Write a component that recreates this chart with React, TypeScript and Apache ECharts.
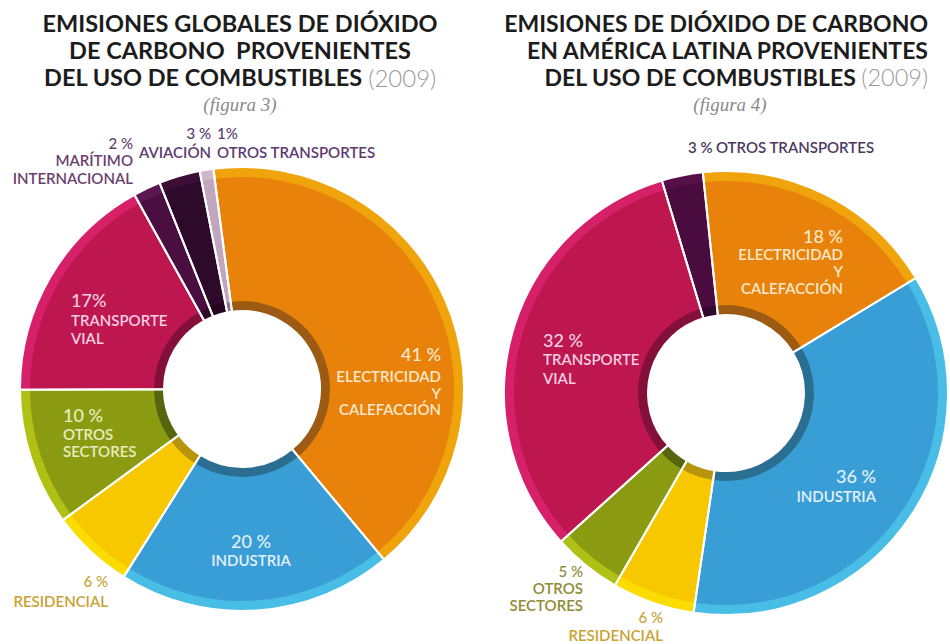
import React, { useEffect, useRef } from "react";
import * as echarts from "echarts";

// ---------- DATA ----------
const globalCategories = [
  "Electricidad y calefacción",
  "Industria",
  "Residencial",
  "Otros sectores",
  "Transporte vial",
  "Marítimo internacional",
  "Aviación",
  "Otros transportes",
];
const globalValues = [41, 20, 6, 10, 17, 2, 3, 1];
const globalPctLabels = ["41 %", "20 %", "6 %", "10 %", "17%", "2 %", "3 %", "1%"];
const globalNameLabels = [
  "ELECTRICIDAD\nY\nCALEFACCIÓN",
  "INDUSTRIA",
  "RESIDENCIAL",
  "OTROS\nSECTORES",
  "TRANSPORTE\nVIAL",
  "MARÍTIMO\nINTERNACIONAL",
  "AVIACIÓN",
  "OTROS TRANSPORTES",
];

const latamCategories = [
  "Electricidad y calefacción",
  "Industria",
  "Residencial",
  "Otros sectores",
  "Transporte vial",
  "Otros transportes",
];
const latamValues = [18, 36, 6, 5, 32, 3];
const latamPctLabels = ["18 %", "36 %", "6 %", "5 %", "32 %", "3 %"];
const latamNameLabels = [
  "ELECTRICIDAD\nY\nCALEFACCIÓN",
  "INDUSTRIA",
  "RESIDENCIAL",
  "OTROS\nSECTORES",
  "TRANSPORTE\nVIAL",
  "OTROS TRANSPORTES",
];

const titleLeft = ["EMISIONES GLOBALES DE DIÓXIDO", "DE CARBONO  PROVENIENTES", "DEL USO DE COMBUSTIBLES"];
const titleRight = ["EMISIONES DE DIÓXIDO DE CARBONO", "EN AMÉRICA LATINA PROVENIENTES", "DEL USO DE COMBUSTIBLES"];
const titleYear = "(2009)";
const figLeft = "(figura 3)";
const figRight = "(figura 4)";

// ---------- STYLE ----------
const palette: Record<string, { main: string; outer: string; inner: string; text: string }> = {
  "Electricidad y calefacción": { main: "#E8820A", outer: "#F0A40C", inner: "#9C5A12", text: "#FCE8CC" },
  Industria: { main: "#3A9ED6", outer: "#48BEE6", inner: "#2A6E92", text: "#E2F1FA" },
  Residencial: { main: "#F7C700", outer: "#FADC00", inner: "#B8940C", text: "#C9A233" },
  "Otros sectores": { main: "#8A9B12", outer: "#AEC114", inner: "#56660E", text: "#E8EDC0" },
  "Transporte vial": { main: "#BE164E", outer: "#D6206A", inner: "#84103A", text: "#F6CFE0" },
  "Marítimo internacional": { main: "#4A0E40", outer: "#5C1652", inner: "#32082C", text: "#6A3E6E" },
  Aviación: { main: "#2E0A2A", outer: "#3C0E36", inner: "#22061E", text: "#5C3A70" },
  "Otros transportes": { main: "#C2A6BE", outer: "#D0B8CC", inner: "#8E7090", text: "#5C3A70" },
};
const latamOtrosTransp = { main: "#4A0C3E", outer: "#560F48", inner: "#32082C" };

const R_HOLE = 78;
const R_INNER = 88;
const R_MAIN = 212;
const R_OUTER = 222;
const FONT = "Lato, 'Open Sans', sans-serif";

function colorsFor(cats: string[], which: "main" | "outer" | "inner", latam: boolean) {
  return cats.map((c) => {
    if (latam && c === "Otros transportes") return (latamOtrosTransp as any)[which];
    return palette[c][which];
  });
}

function donut(center: number[], cats: string[], values: number[], startAngle: number, latam: boolean) {
  const mk = (which: "main" | "outer" | "inner") => {
    const cols = colorsFor(cats, which, latam);
    return cats.map((c, i) => ({ name: c, value: values[i], itemStyle: { color: cols[i] } }));
  };
  const base = {
    type: "pie",
    center,
    startAngle,
    clockwise: true,
    silent: true,
    label: { show: false },
    labelLine: { show: false },
    emphasis: { disabled: true },
    avoidLabelOverlap: false,
  };
  return [
    { ...base, radius: [R_HOLE, R_OUTER], data: mk("outer") },
    { ...base, radius: [R_INNER, R_MAIN], data: mk("main") },
    { ...base, radius: [R_HOLE, R_INNER], data: mk("inner") },
    {
      ...base,
      radius: [R_HOLE, R_OUTER],
      data: cats.map((c, i) => ({ name: c, value: values[i] })),
      itemStyle: { color: "rgba(0,0,0,0)", borderColor: "#ffffff", borderWidth: 2 },
    },
  ];
}

type LabelSpot = {
  idx: number;
  x: number;
  pctY: number;
  nameY: number;
  align: "left" | "right" | "center";
  pctSize: number;
  nameSize: number;
  lh: number;
  color: string;
  inline?: boolean;
};

function labelGraphics(pcts: string[], names: string[], spots: LabelSpot[]) {
  const out: any[] = [];
  spots.forEach((s) => {
    if (s.inline) {
      out.push({
        type: "text",
        z: 100,
        x: s.x,
        y: s.pctY,
        style: {
          text: "{p|" + pcts[s.idx] + "} {n|" + names[s.idx] + "}",
          rich: {
            p: { fontSize: s.pctSize, fontFamily: FONT, fill: s.color, fontWeight: 600 },
            n: { fontSize: s.nameSize, fontFamily: FONT, fill: s.color, fontWeight: 600 },
          },
          align: s.align,
          verticalAlign: "middle",
        },
      });
      return;
    }
    out.push({
      type: "text",
      z: 100,
      x: s.x,
      y: s.pctY,
      style: {
        text: pcts[s.idx],
        fontSize: s.pctSize,
        fontFamily: FONT,
        fontWeight: 500,
        fill: s.color,
        align: s.align,
        verticalAlign: "middle",
      },
    });
    out.push({
      type: "text",
      z: 100,
      x: s.x,
      y: s.nameY - s.lh / 2,
      style: {
        text: names[s.idx],
        fontSize: s.nameSize,
        fontFamily: FONT,
        fontWeight: 600,
        fill: s.color,
        align: s.align,
        verticalAlign: "top",
        lineHeight: s.lh,
      },
    });
  });
  return out;
}

function titleGraphics(
  lines: string[],
  x: number,
  align: "center" | "right",
  size: number,
  fig: string,
  figX: number
) {
  const ys = [23, 50, 77];
  const g: any[] = lines.map((t, i) => ({
    type: "text",
    z: 100,
    x,
    y: ys[i],
    style: {
      text: i === 2 ? "{b|" + t + "} {y|" + titleYear + "}" : t,
      fontSize: size,
      fontWeight: "bold",
      fontFamily: FONT,
      fill: "#1c1c1c",
      align,
      verticalAlign: "middle",
      rich:
        i === 2
          ? {
              b: { fontSize: size, fontWeight: "bold", fontFamily: FONT, fill: "#1c1c1c" },
              y: { fontSize: size + 0.5, fontWeight: 300, fontFamily: FONT, fill: "#9a9a9a" },
            }
          : undefined,
    },
  }));
  g.push({
    type: "text",
    z: 100,
    x: figX,
    y: 104,
    style: {
      text: fig,
      fontSize: 19,
      fontStyle: "italic",
      fontFamily: "'Liberation Serif', 'DejaVu Serif', serif",
      fill: "#8a8a8a",
      align: "center",
      verticalAlign: "middle",
    },
  });
  return g;
}

export default function App() {
  const ref = useRef<HTMLDivElement>(null);
  useEffect(() => {
    if (!ref.current) return;
    const chart = echarts.init(ref.current, undefined, { renderer: "svg" });

    const P = (c: string) => palette[c].text;
    const leftSpots: LabelSpot[] = [
      { idx: 0, x: 441, pctY: 354, nameY: 376, align: "right", pctSize: 18, nameSize: 15, lh: 16.5, color: P("Electricidad y calefacción") },
      { idx: 1, x: 251, pctY: 541, nameY: 560, align: "center", pctSize: 18, nameSize: 15, lh: 17, color: P("Industria") },
      { idx: 2, x: 108, pctY: 581, nameY: 601, align: "right", pctSize: 15, nameSize: 15, lh: 17, color: P("Residencial") },
      { idx: 3, x: 63, pctY: 415, nameY: 434, align: "left", pctSize: 18, nameSize: 15, lh: 17, color: P("Otros sectores") },
      { idx: 4, x: 71, pctY: 300, nameY: 320, align: "left", pctSize: 18, nameSize: 15, lh: 18, color: P("Transporte vial") },
      { idx: 5, x: 133, pctY: 143, nameY: 160, align: "right", pctSize: 15, nameSize: 15, lh: 18, color: P("Marítimo internacional") },
      { idx: 6, x: 211, pctY: 133, nameY: 152, align: "right", pctSize: 15, nameSize: 15, lh: 18, color: P("Aviación") },
      { idx: 7, x: 217, pctY: 133, nameY: 152, align: "left", pctSize: 15, nameSize: 15, lh: 18, color: P("Otros transportes") },
    ];
    const rightSpots: LabelSpot[] = [
      { idx: 0, x: 843, pctY: 236, nameY: 254, align: "right", pctSize: 18, nameSize: 15, lh: 17, color: P("Electricidad y calefacción") },
      { idx: 1, x: 876, pctY: 476, nameY: 496, align: "right", pctSize: 18, nameSize: 15, lh: 17, color: P("Industria") },
      { idx: 2, x: 663, pctY: 617, nameY: 635, align: "right", pctSize: 15, nameSize: 15, lh: 17, color: "#C9A233" },
      { idx: 3, x: 583, pctY: 571, nameY: 588, align: "right", pctSize: 15, nameSize: 15, lh: 17, color: "#8E8C34" },
      { idx: 4, x: 543, pctY: 340, nameY: 359, align: "left", pctSize: 18, nameSize: 15, lh: 19, color: P("Transporte vial") },
      { idx: 5, x: 688, pctY: 147, nameY: 147, align: "left", pctSize: 15, nameSize: 15, lh: 17, color: "#4B3A5E", inline: true },
    ];

    chart.setOption({
      animation: false,
      backgroundColor: "#ffffff",
      series: [
        ...donut([242, 389], globalCategories, globalValues, 97.4, false),
        ...donut([726, 393], latamCategories, latamValues, 96, true),
      ],
      graphic: [
        ...titleGraphics(titleLeft, 240, "center", 23.5, figLeft, 240),
        ...titleGraphics(titleRight, 928, "right", 23, figRight, 730),
        ...labelGraphics(globalPctLabels, globalNameLabels, leftSpots),
        ...labelGraphics(latamPctLabels, latamNameLabels, rightSpots),
      ],
    });
    return () => chart.dispose();
  }, []);
  return (
    <div
      ref={ref}
      style={{ position: "absolute", left: 0, top: 0, width: 950, height: 644 }}
    />
  );
}
